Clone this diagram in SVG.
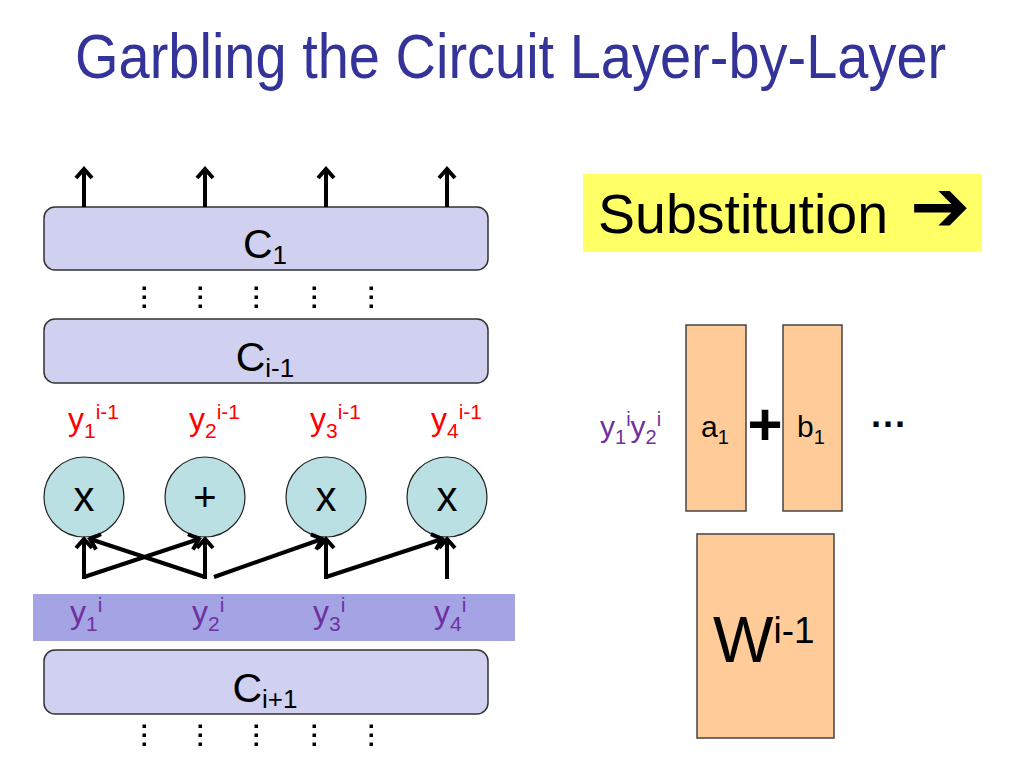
<svg xmlns="http://www.w3.org/2000/svg" width="1024" height="768" viewBox="0 0 1024 768">
<style>
.t{font-family:"Liberation Sans",Arial,sans-serif}
.box{fill:#D0D0F0;stroke:#333;stroke-width:1.5}
.gate{fill:#BBE0E3;stroke:#222;stroke-width:1.2}
.org{fill:#FFCC99;stroke:#444;stroke-width:1.5}
.red{fill:#FF0000}
.pur{fill:#7030A0}
.conn{stroke:#000;stroke-width:4;fill:none;marker-end:url(#ah)}
</style>
<defs>
<marker id="ah" viewBox="-12 -12 24 24" markerWidth="24" markerHeight="24" markerUnits="userSpaceOnUse" orient="auto" refX="0" refY="0">
<path d="M-9,-8 L0,0 L-9,8" fill="none" stroke="#000" stroke-width="4" stroke-linejoin="miter"/>
</marker>
<g id="dots"><rect x="-1.5" y="-1.5" width="3.5" height="3.5"/><rect x="-1.5" y="7.5" width="3.5" height="3.5"/><rect x="-1.5" y="16.5" width="3.5" height="3.5"/></g>
<g id="dotrow"><use href="#dots" x="144"/><use href="#dots" x="200"/><use href="#dots" x="256"/><use href="#dots" x="314"/><use href="#dots" x="371"/></g>
</defs>
<rect width="1024" height="768" fill="#fff"/>
<text class="t" transform="translate(75,78) scale(1,1.12)" x="0" y="0" font-size="56" fill="#333399">Garbling the Circuit Layer-by-Layer</text>

<g id="band"><rect x="33" y="594" width="482" height="47" fill="#A4A4E4"/></g>

<g id="C1"><rect class="box" x="44" y="207" width="444" height="63" rx="11"/>
<text class="t" x="265" y="258" font-size="41" text-anchor="middle">C<tspan font-size="26" dy="6">1</tspan></text></g>
<g id="Cim1"><rect class="box" x="44" y="319" width="444" height="64" rx="11"/>
<text class="t" x="265" y="371" font-size="41" text-anchor="middle">C<tspan font-size="26" dy="6">i-1</tspan></text></g>
<g id="Cip1"><rect class="box" x="44" y="650" width="444" height="64" rx="11"/>
<text class="t" x="265" y="702" font-size="41" text-anchor="middle">C<tspan font-size="26" dy="6">i+1</tspan></text></g>

<g id="dotsTop"><use href="#dotrow" y="288"/></g>
<g id="dotsBottom"><use href="#dotrow" y="726"/></g>

<g id="outLabels" class="t red">
<text x="68" y="430" font-size="32">y<tspan font-size="21" dy="8">1</tspan><tspan font-size="21" dy="-19">i-1</tspan></text>
<text x="189" y="430" font-size="32">y<tspan font-size="21" dy="8">2</tspan><tspan font-size="21" dy="-19">i-1</tspan></text>
<text x="310" y="430" font-size="32">y<tspan font-size="21" dy="8">3</tspan><tspan font-size="21" dy="-19">i-1</tspan></text>
<text x="431" y="430" font-size="32">y<tspan font-size="21" dy="8">4</tspan><tspan font-size="21" dy="-19">i-1</tspan></text>
</g>

<g id="g1"><circle class="gate" cx="84" cy="497" r="40"/><text class="t" x="84" y="511" font-size="42" text-anchor="middle">x</text></g>
<g id="g2"><circle class="gate" cx="205" cy="497" r="40"/><text class="t" x="205" y="511" font-size="40" text-anchor="middle">+</text></g>
<g id="g3"><circle class="gate" cx="326" cy="497" r="40"/><text class="t" x="326" y="511" font-size="42" text-anchor="middle">x</text></g>
<g id="g4"><circle class="gate" cx="447" cy="497" r="40"/><text class="t" x="447" y="511" font-size="42" text-anchor="middle">x</text></g>

<g id="inLabels" class="t pur">
<text x="70" y="623" font-size="32">y<tspan font-size="21" dy="8">1</tspan><tspan font-size="21" dy="-19">i</tspan></text>
<text x="192" y="623" font-size="32">y<tspan font-size="21" dy="8">2</tspan><tspan font-size="21" dy="-19">i</tspan></text>
<text x="313" y="623" font-size="32">y<tspan font-size="21" dy="8">3</tspan><tspan font-size="21" dy="-19">i</tspan></text>
<text x="434" y="623" font-size="32">y<tspan font-size="21" dy="8">4</tspan><tspan font-size="21" dy="-19">i</tspan></text>
</g>

<g id="connectors">
<line class="conn" x1="84" y1="207" x2="84" y2="169"/>
<line class="conn" x1="205" y1="207" x2="205" y2="169"/>
<line class="conn" x1="326" y1="207" x2="326" y2="169"/>
<line class="conn" x1="447" y1="207" x2="447" y2="169"/>
<line class="conn" x1="84" y1="579" x2="84" y2="539"/>
<line class="conn" x1="84" y1="577" x2="199" y2="539"/>
<line class="conn" x1="205" y1="579" x2="205" y2="539"/>
<line class="conn" x1="205" y1="577" x2="90" y2="539"/>
<line class="conn" x1="214" y1="577" x2="322" y2="539"/>
<line class="conn" x1="326" y1="579" x2="326" y2="539"/>
<line class="conn" x1="326" y1="577" x2="442" y2="539"/>
<line class="conn" x1="447" y1="579" x2="447" y2="539"/>
</g>

<g id="subst"><rect x="583" y="174" width="399" height="78" fill="#FFFF66"/>
<text class="t" x="598" y="233" font-size="55.5">Substitution</text>
<text x="910" y="231" font-family="DejaVu Sans,sans-serif" font-size="72">➔</text></g>

<g id="pair" class="t">
<text class="pur" x="600" y="437" font-size="30">y<tspan font-size="20" dy="7">1</tspan><tspan font-size="20" dy="-18">i</tspan><tspan font-size="30" dy="11">y</tspan><tspan font-size="20" dy="7">2</tspan><tspan font-size="20" dy="-18">i</tspan></text>
</g>
<g id="a1"><rect class="org" x="686" y="325" width="60" height="186"/>
<text class="t" x="701" y="437" font-size="30">a<tspan font-size="20" dy="7">1</tspan></text></g>
<text class="t" x="765" y="445" font-size="60" font-weight="bold" text-anchor="middle">+</text>
<g id="b1"><rect class="org" x="783" y="325" width="59" height="186"/>
<text class="t" x="797" y="437" font-size="30">b<tspan font-size="20" dy="7">1</tspan></text></g>
<text class="t" x="871" y="437" font-size="36" font-weight="bold">···</text>

<g id="W"><rect class="org" x="697" y="534" width="137" height="204"/>
<text class="t" x="713" y="662" font-size="64">W<tspan font-size="37" dy="-19">i-1</tspan></text></g>
</svg>
